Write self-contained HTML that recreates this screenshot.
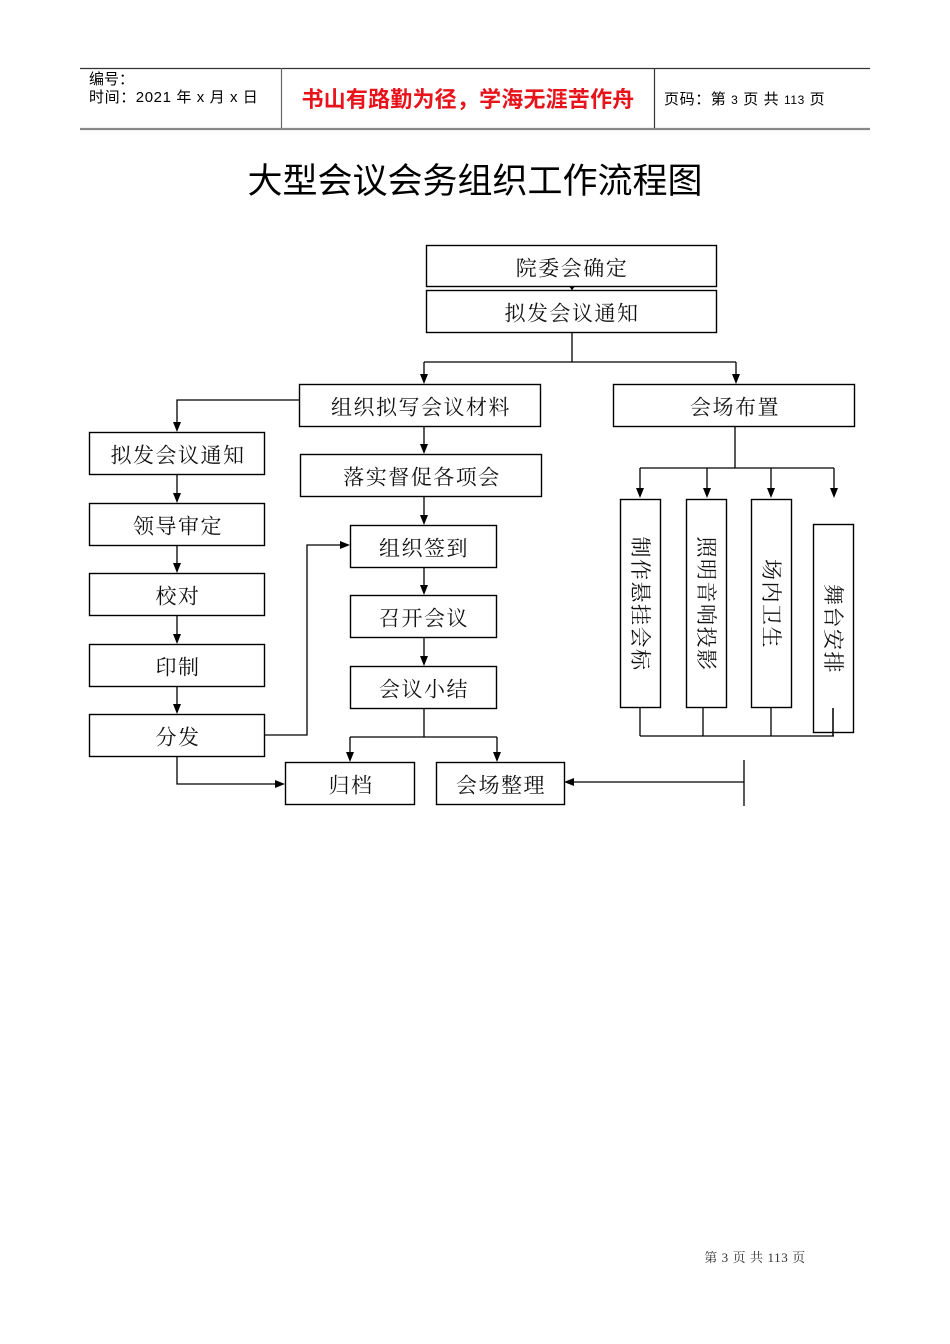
<!DOCTYPE html>
<html><head><meta charset="utf-8"><style>
html,body{margin:0;padding:0;background:#fff;}
svg{display:block;}
.b{fill:#fff;stroke:#000;stroke-width:1.4;}
.l{stroke:#000;stroke-width:1.3;fill:none;}
.t{font-family:"Liberation Serif","Noto Serif CJK SC",serif;font-size:21px;letter-spacing:1.5px;fill:#111;text-anchor:middle;dominant-baseline:central;}
.h{font-family:"Liberation Sans","Noto Sans CJK SC",sans-serif;font-size:15px;fill:#000;}
</style></head><body>
<svg width="950" height="1344" viewBox="0 0 950 1344" xmlns="http://www.w3.org/2000/svg">
<!-- header -->
<line x1="80" y1="68.5" x2="870" y2="68.5" stroke="#333" stroke-width="1.2"/>
<line x1="80" y1="129" x2="870" y2="129" stroke="#888" stroke-width="2.2"/>
<line x1="281.5" y1="68" x2="281.5" y2="128" stroke="#666" stroke-width="1.2"/>
<line x1="654.5" y1="68" x2="654.5" y2="128" stroke="#333" stroke-width="1.2"/>
<text class="h" x="89" y="84">编号：</text>
<text class="h" x="89" y="102" letter-spacing="0.6">时间：2021 年 x 月 x 日</text>
<text x="468" y="107" font-family="Liberation Sans,'Noto Sans CJK SC',sans-serif" font-size="22" font-weight="bold" fill="#e8141c" text-anchor="middle" letter-spacing="0.2">书山有路勤为径，学海无涯苦作舟</text>
<text class="h" x="664" y="104" font-family="Liberation Serif,'Noto Serif CJK SC',serif" letter-spacing="0.6">页码：第 <tspan font-size="12">3</tspan> 页 共 <tspan font-size="12">113</tspan> 页</text>
<!-- title -->
<text x="475" y="193" font-family="Liberation Sans,'Noto Sans CJK SC',sans-serif" font-size="35" fill="#000" text-anchor="middle">大型会议会务组织工作流程图</text>

<!-- connectors -->
<g class="l">
<path d="M572 287V290"/>
<path d="M572 332V362M424 362H736M424 362V376M736 362V376"/>
<path d="M299 400H177V424"/>
<path d="M177 474V495M177 545V565M177 615V636M177 686V706"/>
<path d="M424 426V446M424 496V517M424 567V587M424 637V658M424 708V737M350 737H497M350 737V754M497 737V754"/>
<path d="M265 735H307V545H342"/>
<path d="M177 756V784H277"/>
<path d="M744 760V806M744 782H572"/>
<path d="M735 426V468M640 468H834M640 468V490M707 468V490M771 468V490M834 468V490"/>
<path d="M640 707V736M703 707V736M771 707V736M833 708V736M640 736H834"/>
</g>
<g fill="#000">
<polygon points="568,285 576,285 572,290"/>
<polygon points="420,374 428,374 424,384"/>
<polygon points="732,374 740,374 736,384"/>
<polygon points="173,422 181,422 177,432"/>
<polygon points="173,493 181,493 177,503"/>
<polygon points="173,563 181,563 177,573"/>
<polygon points="173,634 181,634 177,644"/>
<polygon points="173,704 181,704 177,714"/>
<polygon points="420,444 428,444 424,454"/>
<polygon points="420,515 428,515 424,525"/>
<polygon points="420,585 428,585 424,595"/>
<polygon points="420,656 428,656 424,666"/>
<polygon points="346,752 354,752 350,762"/>
<polygon points="493,752 501,752 497,762"/>
<polygon points="340,541 340,549 350,545"/>
<polygon points="275,780 275,788 285,784"/>
<polygon points="574,778 574,786 564,782"/>
<polygon points="636,488 644,488 640,498"/>
<polygon points="703,488 711,488 707,498"/>
<polygon points="767,488 775,488 771,498"/>
<polygon points="830,488 838,488 834,498"/>
</g>

<!-- boxes -->
<rect class="b" x="426.5" y="245.5" width="290" height="41"/>
<text class="t" x="572" y="268.5">院委会确定</text>
<rect class="b" x="426.5" y="290.5" width="290" height="42"/>
<text class="t" x="572" y="313.5">拟发会议通知</text>

<rect class="b" x="299.5" y="384.5" width="241" height="42"/>
<text class="t" x="421" y="407.5">组织拟写会议材料</text>
<rect class="b" x="613.5" y="384.5" width="241" height="42"/>
<text class="t" x="735" y="407.5">会场布置</text>

<rect class="b" x="89.5" y="432.5" width="175" height="42"/>
<text class="t" x="178" y="455.5">拟发会议通知</text>
<rect class="b" x="89.5" y="503.5" width="175" height="42"/>
<text class="t" x="178" y="526.5">领导审定</text>
<rect class="b" x="89.5" y="573.5" width="175" height="42"/>
<text class="t" x="178" y="596.5">校对</text>
<rect class="b" x="89.5" y="644.5" width="175" height="42"/>
<text class="t" x="178" y="667.5">印制</text>
<rect class="b" x="89.5" y="714.5" width="175" height="42"/>
<text class="t" x="178" y="737.5">分发</text>

<rect class="b" x="300.5" y="454.5" width="241" height="42"/>
<text class="t" x="422" y="477.5">落实督促各项会</text>
<rect class="b" x="350.5" y="525.5" width="146" height="42"/>
<text class="t" x="424" y="548.5">组织签到</text>
<rect class="b" x="350.5" y="595.5" width="146" height="42"/>
<text class="t" x="424" y="618.5">召开会议</text>
<rect class="b" x="350.5" y="666.5" width="146" height="42"/>
<text class="t" x="424" y="689.5">会议小结</text>

<rect class="b" x="285.5" y="762.5" width="129" height="42"/>
<text class="t" x="351" y="785.5">归档</text>
<rect class="b" x="436.5" y="762.5" width="128" height="42"/>
<text class="t" x="501" y="785.5">会场整理</text>

<!-- vertical boxes -->
<rect class="b" x="620.5" y="499.5" width="40" height="208"/>
<text class="t" transform="translate(640,604) rotate(90)">制作悬挂会标</text>
<rect class="b" x="686.5" y="499.5" width="40" height="208"/>
<text class="t" transform="translate(706,604) rotate(90)">照明音响投影</text>
<rect class="b" x="751.5" y="499.5" width="40" height="208"/>
<text class="t" transform="translate(771,604) rotate(90)">场内卫生</text>
<rect class="b" x="813.5" y="524.5" width="40" height="208" style="fill:none"/>
<text class="t" transform="translate(833,629) rotate(90)">舞台安排</text>
<path class="l" d="M833 708V736"/>

<!-- footer -->
<text x="755" y="1262" font-family="Liberation Serif,'Noto Serif CJK SC',serif" font-size="13" fill="#333" text-anchor="middle" letter-spacing="0.6">第 3 页 共 113 页</text>
</svg>
</body></html>
